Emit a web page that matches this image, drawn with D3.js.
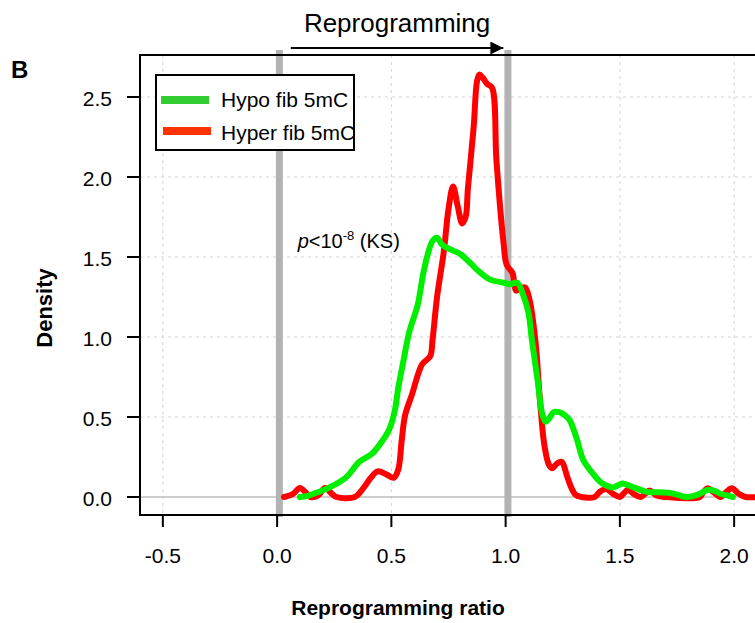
<!DOCTYPE html>
<html lang="en">
<head>
    <meta charset="UTF-8">
    <title>Reprogramming ratio density</title>
    <script src="https://d3js.org/d3.v7.min.js"></script>
    <style>
        body { margin: 0; background: #fff; }
        text { font-family: "Liberation Sans", Arial, sans-serif; }
    </style>
</head>
<body>
    <svg width="755" height="623"></svg>
    <script>
        // tick values
        const xTicks = [-0.5, 0.0, 0.5, 1.0, 1.5, 2.0];
        const yTicks = [0.0, 0.5, 1.0, 1.5, 2.0, 2.5];

        // density estimates
        const hyperX = [0.03, 0.07, 0.10, 0.13, 0.145, 0.18, 0.21, 0.24, 0.26, 0.34, 0.38, 0.41, 0.44, 0.48, 0.51,
            0.53, 0.545, 0.56, 0.59, 0.635, 0.67, 0.68, 0.70, 0.73, 0.75, 0.77, 0.79, 0.81, 0.825, 0.835, 0.86,
            0.875, 0.885, 0.90, 0.92, 0.94, 0.96, 0.99, 1.005, 1.03, 1.045, 1.06, 1.085, 1.105, 1.13, 1.15, 1.17,
            1.19, 1.205, 1.225, 1.245, 1.27, 1.29, 1.31, 1.39, 1.41, 1.44, 1.47, 1.50, 1.515, 1.535, 1.56, 1.59,
            1.61, 1.63, 1.66, 1.70, 1.85, 1.865, 1.885, 1.91, 1.94, 1.965, 1.99, 2.02, 2.05, 2.10];
        const hyperY = [0.0, 0.02, 0.056, 0.02, 0.0, 0.01, 0.056, 0.02, 0.0, 0.0, 0.06, 0.12, 0.16, 0.14, 0.12,
            0.17, 0.35, 0.51, 0.64, 0.83, 0.88, 0.98, 1.25, 1.54, 1.80, 1.94, 1.82, 1.71, 1.75, 1.93, 2.31,
            2.60, 2.64, 2.62, 2.58, 2.56, 2.10, 1.60, 1.45, 1.40, 1.29, 1.30, 1.31, 1.23, 0.98, 0.61, 0.32,
            0.20, 0.18, 0.21, 0.22, 0.125, 0.05, 0.01, 0.0, 0.03, 0.05, 0.02, 0.0, 0.02, 0.045, 0.02, 0.0,
            0.02, 0.04, 0.01, 0.0, 0.0, 0.03, 0.055, 0.03, 0.0, 0.03, 0.055, 0.02, 0.0, 0.0];

        const hypoX = [0.10, 0.13, 0.16, 0.23, 0.30, 0.36, 0.415, 0.45, 0.49, 0.515, 0.53, 0.55, 0.58, 0.615, 0.64,
            0.66, 0.68, 0.70, 0.72, 0.74, 0.77, 0.80, 0.84, 0.875, 0.93, 0.99, 1.02, 1.05, 1.075, 1.10, 1.115,
            1.14, 1.16, 1.175, 1.19, 1.21, 1.235, 1.26, 1.28, 1.31, 1.34, 1.38, 1.41, 1.435, 1.47, 1.51, 1.535,
            1.56, 1.60, 1.63, 1.67, 1.72, 1.76, 1.79, 1.82, 1.85, 1.875, 1.895, 1.92, 1.94, 1.97, 1.995];
        const hypoY = [0.0, 0.005, 0.02, 0.06, 0.12, 0.22, 0.27, 0.33, 0.42, 0.54, 0.68, 0.83, 1.04, 1.20, 1.40,
            1.52, 1.60, 1.62, 1.58, 1.56, 1.54, 1.52, 1.47, 1.42, 1.36, 1.34, 1.33, 1.34, 1.27, 1.15, 0.98,
            0.73, 0.52, 0.47, 0.49, 0.53, 0.53, 0.51, 0.48, 0.37, 0.23, 0.15, 0.10, 0.075, 0.06, 0.085, 0.075,
            0.06, 0.04, 0.03, 0.03, 0.025, 0.01, 0.0, 0.005, 0.02, 0.04, 0.045, 0.035, 0.02, 0.01, 0.0];

        const marks = [0.01, 1.01];  // start / end of reprogramming

        const svg = d3.select("svg");
        const pLeft = 140, pTop = 55, pBottom = 515, pRight = 757;

        const x = d3.scaleLinear().domain([-0.6, 2.1]).range([pLeft, pRight]);
        const y = d3.scaleLinear().domain([-0.1125, 2.7625]).range([pBottom, pTop]);
        const fmt = d => d.toFixed(1);

        // grid
        svg.append("g").selectAll("line")
            .data(xTicks).enter().append("line")
            .attr("x1", d => x(d)).attr("x2", d => x(d))
            .attr("y1", pTop).attr("y2", pBottom)
            .attr("stroke", "#d3d3d3").attr("stroke-dasharray", "3,4");
        svg.append("g").selectAll("line")
            .data(yTicks.filter(d => d > 0)).enter().append("line")
            .attr("x1", pLeft).attr("x2", pRight)
            .attr("y1", d => y(d)).attr("y2", d => y(d))
            .attr("stroke", "#d3d3d3").attr("stroke-dasharray", "3,4");
        svg.append("line")
            .attr("x1", pLeft).attr("x2", pRight)
            .attr("y1", y(0)).attr("y2", y(0))
            .attr("stroke", "#bebebe").attr("stroke-width", 1.5);

        // reprogramming boundaries
        svg.append("g").selectAll("line")
            .data(marks).enter().append("line")
            .attr("x1", d => x(d)).attr("x2", d => x(d))
            .attr("y1", pTop - 5).attr("y2", pBottom + 2)
            .attr("stroke", "#b3b3b3").attr("stroke-width", 7);

        // density curves
        const line = d3.line().x(d => x(d[0])).y(d => y(d[1]))
            .curve(d3.curveCatmullRom.alpha(0.5));
        svg.append("path")
            .datum(d3.zip(hyperX, hyperY))
            .attr("d", line)
            .attr("fill", "none").attr("stroke", "#ff0000").attr("stroke-width", 6)
            .attr("stroke-linejoin", "round").attr("stroke-linecap", "round");
        svg.append("path")
            .datum(d3.zip(hypoX, hypoY))
            .attr("d", line)
            .attr("fill", "none").attr("stroke", "#00ee00").attr("stroke-width", 6)
            .attr("stroke-linejoin", "round").attr("stroke-linecap", "round");

        // box
        svg.append("path")
            .attr("d", `M${pRight},${pTop}H${pLeft}V${pBottom}H${pRight}`)
            .attr("fill", "none").attr("stroke", "#000").attr("stroke-width", 2);

        // axes
        const gx = svg.append("g");
        gx.selectAll("line").data(xTicks).enter().append("line")
            .attr("x1", d => x(d)).attr("x2", d => x(d))
            .attr("y1", pBottom).attr("y2", pBottom + 12)
            .attr("stroke", "#000").attr("stroke-width", 2);
        gx.selectAll("text").data(xTicks).enter().append("text")
            .attr("x", d => x(d)).attr("y", 563)
            .attr("text-anchor", "middle").attr("font-size", 21)
            .text(fmt);

        const gy = svg.append("g");
        gy.selectAll("line").data(yTicks).enter().append("line")
            .attr("x1", pLeft - 13).attr("x2", pLeft)
            .attr("y1", d => y(d)).attr("y2", d => y(d))
            .attr("stroke", "#000").attr("stroke-width", 2);
        gy.selectAll("text").data(yTicks).enter().append("text")
            .attr("x", 112).attr("y", d => y(d) + 9)
            .attr("text-anchor", "end").attr("font-size", 21)
            .text(fmt);

        // axis titles
        svg.append("text")
            .attr("x", 398).attr("y", 615)
            .attr("text-anchor", "middle").attr("font-size", 21).attr("font-weight", "bold")
            .text("Reprogramming ratio");
        svg.append("text")
            .attr("transform", "translate(52,308) rotate(-90)")
            .attr("text-anchor", "middle").attr("font-size", 22).attr("font-weight", "bold")
            .text("Density");
        svg.append("text")
            .attr("x", 11).attr("y", 78)
            .attr("font-size", 24).attr("font-weight", "bold")
            .text("B");

        // reprogramming arrow
        const defs = svg.append("defs");
        defs.append("marker")
            .attr("id", "head").attr("viewBox", "0 0 10 10")
            .attr("refX", 10).attr("refY", 5)
            .attr("markerWidth", 17).attr("markerHeight", 13)
            .attr("markerUnits", "userSpaceOnUse").attr("orient", "auto")
            .append("path").attr("d", "M0,0L10,5L0,10Z").attr("fill", "#000");
        svg.append("line")
            .attr("x1", x(0.06)).attr("x2", x(0.99))
            .attr("y1", 48).attr("y2", 48)
            .attr("stroke", "#000").attr("stroke-width", 2)
            .attr("marker-end", "url(#head)");
        svg.append("text")
            .attr("x", x(0.525)).attr("y", 32)
            .attr("text-anchor", "middle").attr("font-size", 26)
            .text("Reprogramming");

        // p-value
        const pv = svg.append("text")
            .attr("x", x(0.09)).attr("y", 248).attr("font-size", 20);
        pv.append("tspan").attr("font-style", "italic").text("p");
        pv.append("tspan").text("<10");
        pv.append("tspan").attr("font-size", 13).attr("dy", -8).text("-8");
        pv.append("tspan").attr("dy", 8).text(" (KS)");

        // legend
        const lg = svg.append("g");
        lg.append("rect")
            .attr("x", 156).attr("y", 75).attr("width", 198).attr("height", 75)
            .attr("fill", "#fff").attr("stroke", "#000").attr("stroke-width", 2);
        const legendItems = [["Hypo fib 5mC", "#33cc33"], ["Hyper fib 5mC", "#ff3300"]];
        legendItems.forEach((it, i) => {
            lg.append("line")
                .attr("x1", 161 + i * 2).attr("x2", 209 + i * 2)
                .attr("y1", 100 + i * 31).attr("y2", 100 + i * 31)
                .attr("stroke", it[1]).attr("stroke-width", 8);
            lg.append("text")
                .attr("x", 221).attr("y", 107 + i * 33)
                .attr("font-size", 21)
                .text(it[0]);
        });
    </script>
</body>
</html>
